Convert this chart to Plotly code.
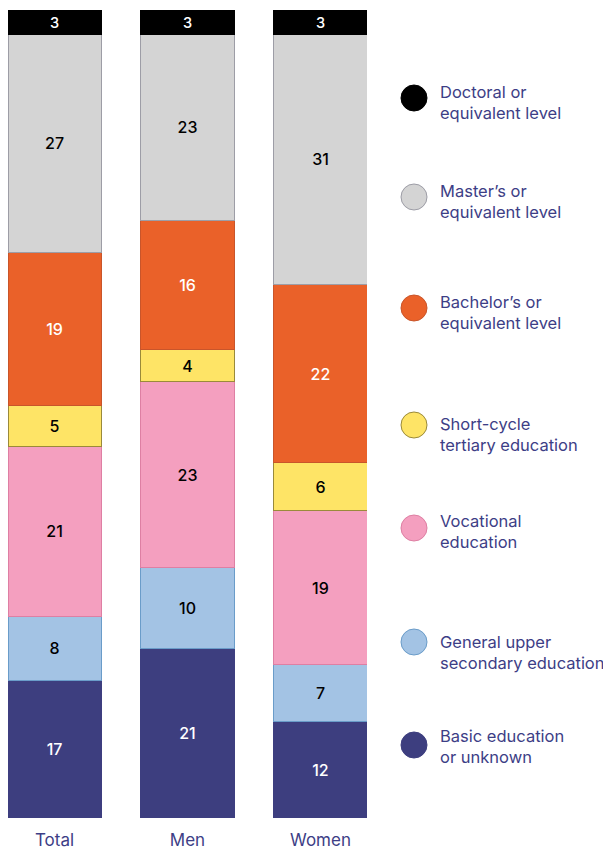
import plotly.graph_objects as go

# Categories and series (percent shares, bottom to top)
groups = ["Total", "Men", "Women"]
levels = [
    "Basic education<br>or unknown",
    "General upper<br>secondary education",
    "Vocational<br>education",
    "Short-cycle<br>tertiary education",
    "Bachelor’s or<br>equivalent level",
    "Master’s or<br>equivalent level",
    "Doctoral or<br>equivalent level",
]
basic = [17, 21, 12]
general_upper = [8, 10, 7]
vocational = [21, 23, 19]
short_cycle = [5, 4, 6]
bachelor = [19, 16, 22]
master = [27, 23, 31]
doctoral = [3, 3, 3]
series = [basic, general_upper, vocational, short_cycle, bachelor, master, doctoral]

# Styles
fills = ["#3d3e7f", "#a3c3e4", "#f49fbf", "#fee466", "#ea6129", "#d4d4d4", "#000000"]
borders = ["#3d3e7f", "#6a9cc9", "#de7fa3", "#9a8a3a", "#c9552a", "#9d9da6", "#000000"]
text_colors = ["white", "black", "black", "black", "white", "black", "white"]
# legend positions in page pixels
legend_marker_y = [745, 642, 528, 425, 308, 197, 98]
legend_text_y = [746, 652, 531, 434, 312, 201, 102]
navy = "#3d3e86"
FONT = "Inter"

fig = go.Figure()

for name, vals, fc, bc, tc in zip(levels, series, fills, borders, text_colors):
    fig.add_trace(go.Bar(
        x=groups, y=vals, name=name,
        marker=dict(color=fc, line=dict(color=bc, width=1)),
        text=[str(v) for v in vals],
        textposition="inside", insidetextanchor="middle",
        textangle=0,
        textfont=dict(family=FONT, size=16, color=tc, weight=500),
        width=0.7, showlegend=False, hoverinfo="skip",
    ))

# Hand-made legend: circles + two-line labels on a second axis (page pixels)
fig.add_trace(go.Scatter(
    x=[414] * len(levels), y=legend_marker_y, mode="markers",
    marker=dict(size=26, color=fills, line=dict(color=borders, width=1)),
    xaxis="x2", yaxis="y2", showlegend=False, hoverinfo="skip",
))
for name, ty in zip(levels, legend_text_y):
    fig.add_annotation(
        x=438, y=ty, xref="x2", yref="y2", text=name, showarrow=False,
        xanchor="left", yanchor="middle", align="left",
        font=dict(family=FONT, size=16.5, color=navy),
    )

# page body has an 8px margin, so the figure is 8px smaller each way
fig.update_layout(
    barmode="stack",
    width=603, height=841,
    margin=dict(l=0, r=0, t=2, b=31),
    paper_bgcolor="white", plot_bgcolor="rgba(0,0,0,0)",
    xaxis=dict(domain=[0, 359 / 603], range=[-0.35, 2.35],
               tickfont=dict(family=FONT, size=17, color=navy),
               ticks="outside", ticklen=7, tickcolor="white",
               showgrid=False, zeroline=False, showline=False),
    yaxis=dict(range=[0, 100], visible=False),
    xaxis2=dict(domain=[0, 1], range=[8, 611], anchor="y2", visible=False),
    yaxis2=dict(domain=[0, 1], range=[818, 10], anchor="x2", visible=False),
)

fig.write_html("out.html")
